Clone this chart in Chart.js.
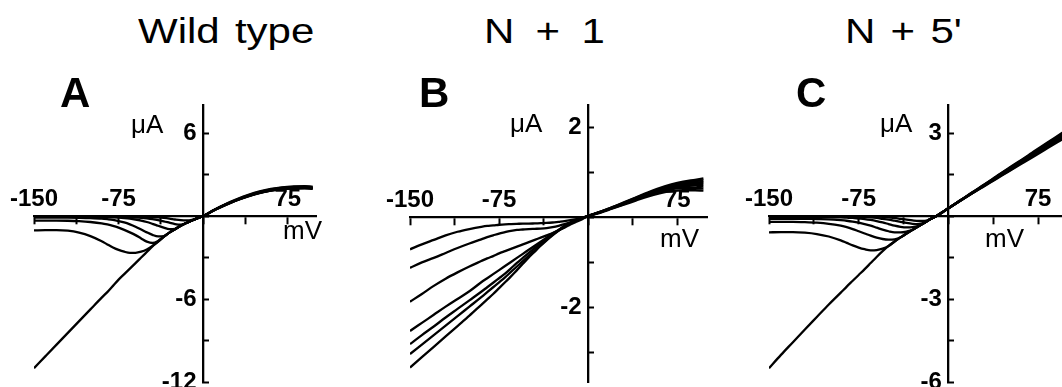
<!DOCTYPE html>
<html>
<head>
<title>I-V curves</title>
<script src="https://cdn.jsdelivr.net/npm/chart.js"></script>
<style>
  html, body { margin: 0; padding: 0; overflow: hidden; background: #fff; }
  body { width: 1062px; height: 387px; position: relative; font-family: 'Liberation Sans', Arial, sans-serif; color: #000; }
  canvas { position: absolute; }
  .txt { position: absolute; line-height: 1; white-space: pre; z-index: 2; }
  .title { font-size: 35px; word-spacing: 3px; transform: scaleX(1.2); transform-origin: left top; }
  .panel { font-size: 42px; font-weight: bold; }
  .unit { font-size: 26px; }
</style>
</head>
<body>

<div class="txt title" style="left:138px; top:13px">Wild type</div>
<div class="txt title" style="left:484px; top:13px; word-spacing:8px">N + 1</div>
<div class="txt title" style="left:845px; top:13px">N + 5'</div>

<div class="txt panel" style="left:60px; top:72px">A</div>
<div class="txt panel" style="left:419px; top:72px">B</div>
<div class="txt panel" style="left:796px; top:72px">C</div>

<div class="txt unit" style="left:131px; top:111px">μA</div>
<div class="txt unit" style="left:510px; top:110px">μA</div>
<div class="txt unit" style="left:880px; top:110px">μA</div>
<div class="txt unit" style="left:283px; top:217px">mV</div>
<div class="txt unit" style="left:660px; top:225px">mV</div>
<div class="txt unit" style="left:985px; top:225px">mV</div>

<canvas id="chartA" width="345" height="312" style="left:0px; top:88px"></canvas>
<canvas id="chartB" width="350" height="312" style="left:370px; top:88px"></canvas>
<canvas id="chartC" width="345" height="312" style="left:730px; top:88px"></canvas>

<script>
  // Membranpotential (mV), gemeinsam für alle Kurven
  const volts = [-150, -140, -130, -120, -110, -100, -90, -85, -80, -75, -70, -65, -60, -55, -50, -45, -40, -35, -30, -25, -20, -15, -10, -5, 0, 10, 20, 30, 40, 50, 60, 70, 80, 90, 97];

  // A: Wild type (µA)
  const wt1 = [-0.01, -0.01, -0.01, -0.01, -0.01, -0.01, -0.01, -0.01, -0.02, -0.02, -0.02, -0.03, -0.03, -0.04, -0.05, -0.07, -0.1, -0.14, -0.19, -0.25, -0.3, -0.32, -0.28, -0.15, 0, 0.43, 0.8, 1.14, 1.42, 1.66, 1.83, 1.94, 1.99, 2.0, 1.96];
  const wt2 = [-0.03, -0.03, -0.03, -0.03, -0.03, -0.03, -0.04, -0.04, -0.05, -0.06, -0.07, -0.08, -0.1, -0.13, -0.17, -0.22, -0.29, -0.38, -0.48, -0.58, -0.62, -0.5, -0.32, -0.15, 0, 0.43, 0.81, 1.15, 1.43, 1.67, 1.84, 1.96, 2.01, 2.02, 1.98];
  const wt3 = [-0.06, -0.06, -0.06, -0.06, -0.06, -0.07, -0.08, -0.09, -0.1, -0.12, -0.15, -0.19, -0.25, -0.33, -0.43, -0.56, -0.7, -0.84, -0.95, -0.93, -0.7, -0.5, -0.32, -0.15, 0, 0.44, 0.82, 1.16, 1.45, 1.69, 1.86, 1.98, 2.03, 2.05, 2.01];
  const wt4 = [-0.12, -0.12, -0.12, -0.12, -0.13, -0.15, -0.19, -0.23, -0.28, -0.36, -0.46, -0.6, -0.77, -0.97, -1.18, -1.36, -1.47, -1.45, -1.2, -0.95, -0.7, -0.5, -0.32, -0.15, 0, 0.44, 0.83, 1.17, 1.46, 1.7, 1.88, 2.0, 2.05, 2.07, 2.03];
  const wt5 = [-0.33, -0.33, -0.33, -0.34, -0.37, -0.43, -0.53, -0.61, -0.71, -0.84, -1.0, -1.18, -1.38, -1.62, -1.85, -1.95, -1.8, -1.5, -1.2, -0.95, -0.7, -0.5, -0.32, -0.15, 0, 0.45, 0.84, 1.18, 1.48, 1.72, 1.9, 2.02, 2.07, 2.09, 2.05];
  const wt6 = [-1.04, -1.02, -1.02, -1.06, -1.2, -1.45, -1.82, -2.05, -2.27, -2.45, -2.58, -2.66, -2.66, -2.58, -2.42, -2.16, -1.85, -1.5, -1.2, -0.95, -0.7, -0.5, -0.32, -0.15, 0, 0.45, 0.85, 1.2, 1.5, 1.75, 1.93, 2.05, 2.1, 2.12, 2.08];
  const wt7 = [-11.0, -10.15, -9.3, -8.45, -7.6, -6.75, -5.9, -5.5, -5.05, -4.6, -4.2, -3.8, -3.4, -3.0, -2.6, -2.2, -1.85, -1.5, -1.2, -0.95, -0.7, -0.5, -0.32, -0.15, 0, 0.46, 0.87, 1.22, 1.53, 1.78, 1.96, 2.08, 2.14, 2.16, 2.12];

  // B: N + 1 (µA)
  const n1a = [-0.71, -0.6, -0.5, -0.4, -0.32, -0.26, -0.21, -0.19, -0.18, -0.165, -0.155, -0.15, -0.145, -0.14, -0.14, -0.135, -0.13, -0.125, -0.115, -0.1, -0.085, -0.065, -0.04, -0.01, 0.03, 0.1, 0.19, 0.28, 0.37, 0.46, 0.53, 0.58, 0.6, 0.6, 0.59];
  const n1b = [-1.12, -1.0, -0.9, -0.79, -0.68, -0.58, -0.49, -0.44, -0.4, -0.36, -0.33, -0.3, -0.28, -0.27, -0.26, -0.255, -0.25, -0.24, -0.22, -0.19, -0.15, -0.11, -0.07, -0.03, 0.03, 0.11, 0.2, 0.29, 0.39, 0.48, 0.56, 0.62, 0.65, 0.65, 0.64];
  const n1c = [-1.87, -1.7, -1.52, -1.36, -1.22, -1.09, -0.97, -0.91, -0.86, -0.8, -0.75, -0.7, -0.65, -0.6, -0.55, -0.5, -0.45, -0.4, -0.35, -0.29, -0.23, -0.16, -0.1, -0.04, 0.03, 0.11, 0.2, 0.3, 0.4, 0.5, 0.58, 0.65, 0.69, 0.7, 0.69];
  const n1d = [-2.52, -2.34, -2.16, -1.98, -1.81, -1.64, -1.44, -1.35, -1.26, -1.17, -1.08, -0.99, -0.9, -0.81, -0.72, -0.63, -0.54, -0.45, -0.36, -0.28, -0.19, -0.12, -0.06, -0.01, 0.03, 0.11, 0.21, 0.31, 0.41, 0.51, 0.6, 0.67, 0.72, 0.74, 0.74];
  const n1e = [-2.81, -2.61, -2.42, -2.22, -2.03, -1.84, -1.65, -1.55, -1.45, -1.35, -1.25, -1.13, -1.01, -0.9, -0.79, -0.68, -0.57, -0.47, -0.38, -0.29, -0.2, -0.12, -0.06, -0.01, 0.03, 0.12, 0.21, 0.31, 0.42, 0.52, 0.61, 0.69, 0.74, 0.77, 0.78];
  const n1f = [-3.03, -2.82, -2.61, -2.4, -2.19, -1.98, -1.77, -1.66, -1.55, -1.44, -1.33, -1.21, -1.09, -0.97, -0.85, -0.73, -0.61, -0.5, -0.39, -0.29, -0.2, -0.12, -0.06, -0.01, 0.03, 0.12, 0.22, 0.32, 0.43, 0.53, 0.63, 0.71, 0.76, 0.8, 0.82];
  const n1g = [-3.33, -3.1, -2.87, -2.64, -2.41, -2.18, -1.94, -1.82, -1.7, -1.57, -1.44, -1.31, -1.17, -1.03, -0.89, -0.76, -0.63, -0.51, -0.4, -0.3, -0.21, -0.13, -0.07, -0.02, 0.03, 0.12, 0.22, 0.33, 0.44, 0.55, 0.65, 0.73, 0.79, 0.83, 0.86];

  // C: N + 5' (µA)
  const n5a = [-0.01, -0.01, -0.01, -0.01, -0.01, -0.01, -0.01, -0.01, -0.01, -0.01, -0.02, -0.02, -0.02, -0.03, -0.05, -0.07, -0.1, -0.13, -0.16, -0.18, -0.18, -0.11, 0.0, 0.14, 0.28, 0.55, 0.82, 1.08, 1.34, 1.6, 1.86, 2.12, 2.38, 2.64, 2.82];
  const n5b = [-0.02, -0.02, -0.02, -0.02, -0.02, -0.02, -0.03, -0.03, -0.03, -0.04, -0.04, -0.05, -0.07, -0.1, -0.13, -0.17, -0.21, -0.25, -0.28, -0.29, -0.24, -0.11, 0.0, 0.14, 0.28, 0.55, 0.82, 1.09, 1.36, 1.62, 1.89, 2.16, 2.42, 2.69, 2.88];
  const n5c = [-0.03, -0.03, -0.03, -0.03, -0.03, -0.04, -0.05, -0.06, -0.07, -0.09, -0.11, -0.14, -0.18, -0.23, -0.29, -0.35, -0.39, -0.41, -0.4, -0.35, -0.24, -0.11, 0.0, 0.14, 0.28, 0.56, 0.83, 1.1, 1.37, 1.64, 1.91, 2.18, 2.45, 2.72, 2.91];
  const n5d = [-0.1, -0.1, -0.1, -0.1, -0.11, -0.12, -0.15, -0.17, -0.2, -0.24, -0.29, -0.35, -0.42, -0.49, -0.55, -0.59, -0.59, -0.56, -0.5, -0.37, -0.24, -0.11, 0.0, 0.14, 0.28, 0.56, 0.84, 1.11, 1.39, 1.66, 1.94, 2.21, 2.49, 2.76, 2.95];
  const n5e = [-0.21, -0.21, -0.21, -0.22, -0.24, -0.28, -0.35, -0.4, -0.47, -0.55, -0.63, -0.71, -0.78, -0.83, -0.85, -0.84, -0.77, -0.63, -0.5, -0.37, -0.24, -0.11, 0.0, 0.14, 0.28, 0.56, 0.84, 1.12, 1.4, 1.68, 1.96, 2.24, 2.52, 2.8, 2.99];
  const n5f = [-0.59, -0.58, -0.58, -0.6, -0.65, -0.74, -0.88, -0.97, -1.06, -1.14, -1.2, -1.24, -1.23, -1.18, -1.08, -0.92, -0.77, -0.63, -0.5, -0.37, -0.24, -0.11, 0.0, 0.14, 0.28, 0.57, 0.85, 1.13, 1.42, 1.7, 1.98, 2.26, 2.55, 2.83, 3.02];
  const n5g = [-5.5, -5.02, -4.56, -4.1, -3.65, -3.2, -2.77, -2.55, -2.34, -2.13, -1.92, -1.7, -1.48, -1.27, -1.08, -0.92, -0.77, -0.63, -0.5, -0.37, -0.24, -0.11, 0.0, 0.14, 0.28, 0.57, 0.86, 1.14, 1.43, 1.72, 2.0, 2.29, 2.58, 2.86, 3.06];

  // Achsenteilung und Beschriftungen
  const xTicks = [-150, -112.5, -75, -37.5, 0, 37.5, 75];
  const xTickLabels = [-150, -75, 75];
  const yTicksA = [-12, -9, -6, -3, 0, 3, 6];
  const yTickLabelsA = [-12, -6, 6];
  const yTicksB = [-3, -2, -1, 0, 1, 2];
  const yTickLabelsB = [-2, 2];
  const yTicksC = [-6, -4.5, -3, -1.5, 0, 1.5, 3];
  const yTickLabelsC = [-6, -3, 3];

  Chart.defaults.font.family = "'Liberation Sans', Arial, sans-serif";
  Chart.defaults.color = '#000';

  function makeChart(id, series, yMin, yMax, yTicks, yLabels, pad) {
    const ctx = document.getElementById(id).getContext('2d');
    return new Chart(ctx, {
      type: 'line',
      data: {
        datasets: series.map(s => ({
          data: volts.map((v, i) => ({ x: v, y: s[i] })),
          borderColor: '#000',
          borderWidth: 2.3,
          pointRadius: 0,
          fill: false,
          cubicInterpolationMode: 'monotone'
        }))
      },
      options: {
        responsive: false,
        animation: false,
        events: [],
        layout: { padding: pad },
        plugins: { legend: { display: false }, tooltip: { enabled: false } },
        scales: {
          x: {
            type: 'linear',
            min: -150,
            max: 100,
            position: { y: 0 },
            afterBuildTicks: s => { s.ticks = xTicks.map(v => ({ value: v })); },
            afterFit: s => { s.height = 0; },
            border: { display: true, color: '#000', width: 2.3 },
            grid: { drawOnChartArea: false, drawTicks: true, tickLength: 7, tickWidth: 2, tickColor: '#000' },
            ticks: {
              autoSkip: false, maxRotation: 0, minRotation: 0, padding: -38,
              font: { size: 24, weight: 'bold' },
              callback: v => xTickLabels.includes(v) ? String(v) : ''
            }
          },
          y: {
            type: 'linear',
            min: yMin,
            max: yMax,
            position: { x: 0 },
            afterBuildTicks: s => { s.ticks = yTicks.map(v => ({ value: v })); },
            afterFit: s => { s.width = 0; },
            border: { display: true, color: '#000', width: 2.3 },
            grid: { drawOnChartArea: false, drawTicks: true, tickLength: -7, tickWidth: 2, tickColor: '#000' },
            ticks: {
              autoSkip: false,
              font: { size: 24, weight: 'bold' },
              callback: v => yLabels.includes(v) ? v + ' ' : ''
            }
          }
        }
      }
    });
  }

  makeChart('chartA', [wt1, wt2, wt3, wt4, wt5, wt6, wt7], -12, 8, yTicksA, yTickLabelsA,
    { left: 34, right: 29, top: 12, bottom: 18 });
  makeChart('chartB', [n1a, n1b, n1c, n1d, n1e, n1f, n1g], -3.65, 2.48, yTicksB, yTickLabelsB,
    { left: 40, right: 13, top: 12, bottom: 18 });
  makeChart('chartC', [n5a, n5b, n5c, n5d, n5e, n5f, n5g], -6, 4, yTicksC, yTickLabelsC,
    { left: 39, right: 7, top: 12, bottom: 18 });
</script>

</body>
</html>
